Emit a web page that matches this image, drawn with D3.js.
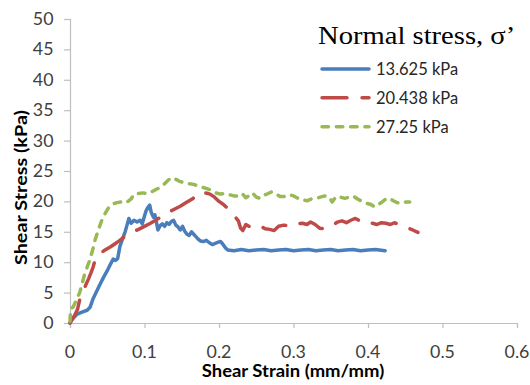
<!DOCTYPE html>
<html><head><meta charset="utf-8">
<script src="https://cdn.jsdelivr.net/npm/d3@7"></script>
<style>body{margin:0;background:#fff}svg{display:block}</style>
</head><body>
<script>
// ---- data ----
const xTicks = [0, 0.1, 0.2, 0.3, 0.4, 0.5, 0.6];
const yTicks = [0, 5, 10, 15, 20, 25, 30, 35, 40, 45, 50];
const seriesNames = ["13.625 kPa", "20.438 kPa", "27.25 kPa"];
const legendTitle = "Normal stress, σ’";
const xTitle = "Shear Strain (mm/mm)";
const yTitle = "Shear Stress (kPa)";

const strainA = [0,0.002,0.009,0.016,0.023,0.027,0.031,0.035,0.040,0.045,0.050,0.054,0.058,0.061,0.064,0.067,0.071,0.074,0.077,0.079,0.082,0.086,0.090,0.094,0.097,0.100,0.102,0.104,0.107,0.109,0.112,0.114,0.116,0.118,0.121,0.124,0.127,0.130,0.133,0.136,0.139,0.142,0.145,0.148,0.151,0.154,0.157,0.160,0.163,0.166,0.169,0.172,0.175,0.179,0.183,0.187,0.191,0.195,0.199,0.202,0.205,0.209,0.212,0.220,0.230,0.240,0.250,0.260,0.270,0.280,0.290,0.300,0.310,0.320,0.330,0.340,0.350,0.360,0.370,0.380,0.390,0.400,0.410,0.423];
const stressA = [0,0.5,1.4,1.8,2.1,2.6,4.0,5.0,6.3,7.5,8.6,9.6,10.5,10.3,10.6,12.6,14.0,15.0,16.3,17.2,16.4,16.9,16.6,16.9,16.3,17.6,18.4,18.9,19.4,18.2,17.4,17.8,16.6,15.3,16.0,16.3,15.9,16.5,16.2,16.7,16.9,16.1,15.8,15.3,15.9,15.1,14.6,14.4,15.0,14.6,14.2,13.8,13.5,13.4,13.6,13.2,12.9,13.1,13.3,13.4,13.0,12.3,12.0,11.9,12.1,11.9,12.0,12.1,11.9,12.0,12.1,11.9,12.0,12.1,11.9,12.0,12.1,11.9,12.0,12.1,11.9,12.0,12.1,11.9];

const strainB = [0,0.002,0.006,0.010,0.013,0.017,0.021,0.025,0.028,0.031,0.034,0.040,0.047,0.054,0.060,0.066,0.072,0.078,0.085,0.092,0.100,0.108,0.116,0.124,0.132,0.140,0.148,0.156,0.164,0.171,0.177,0.182,0.188,0.194,0.200,0.206,0.212,0.218,0.222,0.226,0.229,0.232,0.236,0.240,0.245,0.250,0.256,0.262,0.268,0.274,0.280,0.287,0.293,0.299,0.305,0.312,0.318,0.323,0.329,0.335,0.341,0.347,0.353,0.359,0.365,0.371,0.377,0.383,0.389,0.394,0.400,0.406,0.412,0.418,0.424,0.430,0.436,0.442,0.448,0.454,0.460,0.467];
const stressB = [0,0.4,1.2,2.2,3.8,5.0,6.2,7.3,8.2,9.2,10.5,11.4,12.0,12.5,13.0,13.5,14.1,14.6,15.0,15.4,15.9,16.4,17.0,17.6,18.2,18.7,19.2,19.8,20.4,21.0,21.6,21.4,21.2,20.7,20.0,19.5,18.8,18.0,17.4,16.8,15.6,15.2,16.2,15.9,16.1,15.8,15.9,15.5,15.4,15.2,15.9,16.1,16.0,16.4,16.3,16.4,16.2,16.6,16.2,15.6,15.5,16.0,16.1,16.6,16.8,16.5,16.9,17.2,16.8,16.4,16.3,16.4,16.2,16.5,16.4,16.2,16.5,16.1,15.8,15.6,15.3,14.9];

const strainC = [0,0.001,0.004,0.008,0.013,0.017,0.020,0.024,0.027,0.031,0.034,0.038,0.043,0.048,0.053,0.058,0.063,0.068,0.073,0.078,0.082,0.086,0.092,0.098,0.104,0.110,0.116,0.121,0.126,0.131,0.136,0.141,0.147,0.153,0.160,0.166,0.172,0.178,0.184,0.190,0.196,0.202,0.208,0.214,0.220,0.226,0.231,0.236,0.241,0.245,0.250,0.255,0.260,0.266,0.271,0.277,0.282,0.288,0.294,0.300,0.306,0.312,0.318,0.324,0.330,0.336,0.342,0.348,0.352,0.357,0.363,0.369,0.375,0.380,0.386,0.392,0.398,0.404,0.409,0.414,0.419,0.424,0.429,0.434,0.439,0.445,0.451,0.456];
const stressC = [0.3,2.4,2.6,3.6,5.0,6.8,8.2,9.5,10.5,12.3,13.8,15.3,17.0,18.2,19.2,19.6,19.8,19.9,19.7,20.0,20.4,21.2,21.3,21.4,21.3,21.6,22.0,22.3,22.8,23.4,23.9,23.7,23.3,23.1,22.9,22.8,22.5,22.3,22.1,21.8,21.4,21.2,21.3,21.1,20.9,20.9,21.3,20.6,21.0,21.4,20.7,20.5,21.0,21.3,21.6,21.2,20.8,20.8,21.1,20.9,20.5,20.3,20.1,20.4,20.5,20.7,20.9,20.7,19.9,20.8,20.7,20.5,20.7,20.9,20.4,20.0,19.7,19.5,19.1,19.5,19.9,20.4,20.5,20.1,19.8,19.7,19.9,19.9];

const colors = ["#4a7ebb", "#be4b48", "#98b954"];
const dashes = [null, "25,15", "6.5,7.8"];

// ---- chart ----
const W = 530, H = 385;
const svg = d3.select("body").append("svg").attr("width", W).attr("height", H);
const x = d3.scaleLinear().domain([0, 0.6]).range([70, 517]);
const y = d3.scaleLinear().domain([0, 50]).range([323, 19]);
const sans = "Lato, 'Open Sans', sans-serif";
const sx = 1.08;

// axes
const xAxis = svg.append("g").attr("transform", "translate(0,323)")
  .call(d3.axisBottom(x).tickValues(xTicks).tickSize(5).tickFormat(d3.format("")));
const yAxis = svg.append("g").attr("transform", "translate(70,0)")
  .call(d3.axisLeft(y).tickValues(yTicks).tickSize(6).tickFormat(d3.format("")));
[xAxis, yAxis].forEach(g => {
  g.select(".domain").attr("stroke", "#bfbfbf").attr("stroke-width", 1.2);
  g.selectAll(".tick line").attr("stroke", "#bfbfbf").attr("stroke-width", 1.2);
  g.selectAll(".tick text").remove();
});
// tick labels
xTicks.forEach(v => {
  svg.append("g").attr("transform", `translate(${x(v)},357.5) scale(${sx},1)`)
    .append("text").attr("text-anchor", "middle").attr("font-family", sans)
    .attr("font-size", 16.5).attr("fill", "#404040").text(d3.format("")(v));
});
yTicks.forEach(v => {
  svg.append("g").attr("transform", `translate(53.5,${y(v)}) scale(${sx},1)`)
    .append("text").attr("text-anchor", "end").attr("dy", "0.36em").attr("font-family", sans)
    .attr("font-size", 16.5).attr("fill", "#404040").text(v);
});

// lines
const line = d3.line().x(d => x(d[0])).y(d => y(d[1]));
const data = [
  d3.zip(strainA, stressA),
  d3.zip(strainB, stressB),
  d3.zip(strainC, stressC)
];
data.forEach((d, i) => {
  const p = svg.append("path").datum(d).attr("d", line)
    .attr("fill", "none").attr("stroke", colors[i]).attr("stroke-width", 3.5)
    .attr("stroke-linejoin", "round").attr("stroke-linecap", "round");
  if (dashes[i]) p.attr("stroke-dasharray", dashes[i]);
});

// axis titles
svg.append("g").attr("transform", `translate(293,377) scale(1.12,1)`)
  .append("text").attr("text-anchor", "middle").attr("font-family", sans)
  .attr("font-weight", "bold").attr("font-size", 16.5).attr("fill", "#000").text(xTitle);
svg.append("g").attr("transform", `translate(26.5,187.5) rotate(-90) scale(1.2,1)`)
  .append("text").attr("text-anchor", "middle").attr("font-family", sans)
  .attr("font-weight", "bold").attr("font-size", 16.5).attr("fill", "#000").text(yTitle);

// legend
svg.append("g").attr("transform", `translate(318,44) scale(1.1,1)`)
  .append("text").attr("font-family", "'Liberation Serif', 'Times New Roman', serif")
  .attr("font-size", 26).attr("fill", "#000").text(legendTitle);
const legY = [69, 97.7, 126.7];
seriesNames.forEach((n, i) => {
  const l = svg.append("line").attr("x1", 322).attr("x2", 369).attr("y1", legY[i]).attr("y2", legY[i])
    .attr("stroke", colors[i]).attr("stroke-width", 3.5).attr("stroke-linecap", "round");
  if (dashes[i]) l.attr("stroke-dasharray", dashes[i]);
  svg.append("text").attr("x", 376).attr("y", legY[i]).attr("dy", "0.36em").attr("font-family", sans)
    .attr("font-size", 16.5).attr("fill", "#262626").text(n);
});
</script>
</body></html>
